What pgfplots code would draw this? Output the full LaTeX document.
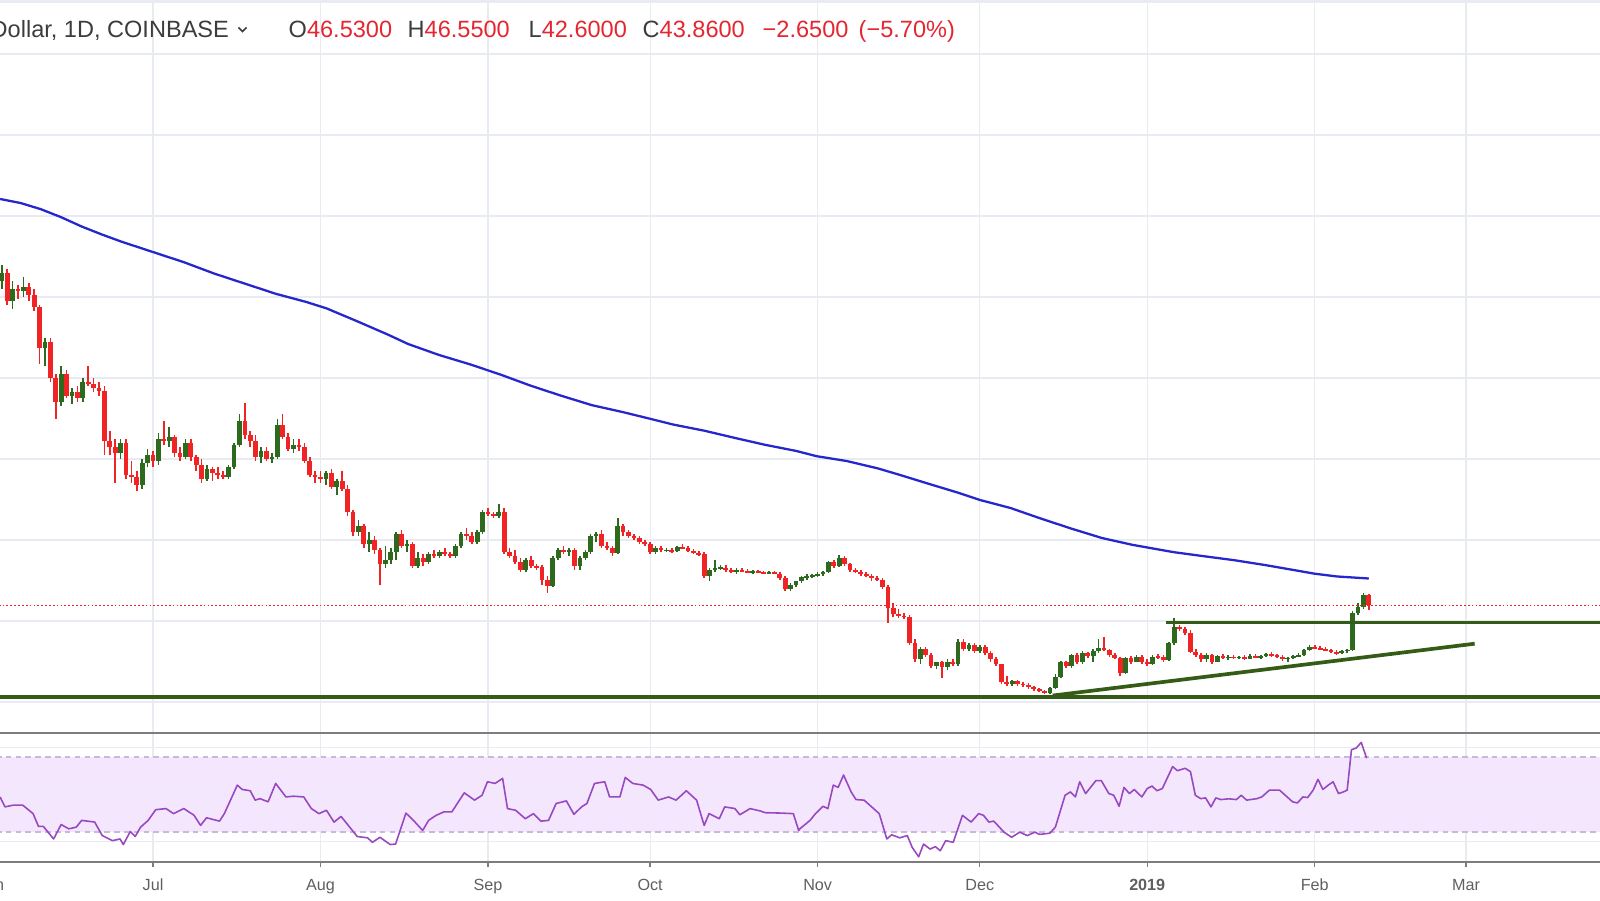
\documentclass[border=0pt]{standalone}
\usepackage{pgfplots}
\pgfplotsset{compat=1.18}
\usepackage{pgfplotstable}
\usepackage{fontspec}
\setmainfont{Liberation Sans}
\definecolor{upc}{RGB}{46,106,30}
\definecolor{dnc}{RGB}{240,36,36}
\definecolor{gridc}{RGB}{232,235,242}
\definecolor{mac}{RGB}{38,38,205}
\definecolor{supc}{RGB}{52,92,22}
\definecolor{rsic}{RGB}{152,72,192}
\definecolor{bandc}{RGB}{243,230,253}
\definecolor{bandl}{RGB}{200,185,218}
\definecolor{txtc}{RGB}{60,60,60}
\definecolor{tickc}{RGB}{95,95,95}
\definecolor{hred}{RGB}{228,38,48}
\definecolor{sepc}{RGB}{125,125,125}
\newcommand{\hf}{\fontsize{6.7}{8}\selectfont}

\pgfplotstableread{
d o h l c
-28 124.0 128.0 122.0 126.0
-27 126.0 127.0 118.0 119.0
-26 119.0 124.0 117.0 122.0
-25 122.0 123.0 119.5 121.5
-24 121.5 125.0 120.0 122.5
-23 122.5 123.5 119.0 120.5
-22 120.5 122.0 116.5 117.5
-21 117.5 118.0 103.5 107.5
-20 107.5 110.0 103.0 109.0
-19 109.0 110.0 99.0 100.0
-18 100.0 101.0 90.0 94.0
-17 94.0 103.0 93.0 101.0
-16 101.0 102.0 95.0 95.5
-15 95.5 97.5 93.5 96.5
-14 96.5 98.0 94.0 95.0
-13 95.0 100.0 94.0 99.0
-12 99.0 103.0 98.0 98.5
-11 98.5 100.0 96.5 97.5
-10 97.5 99.0 95.5 96.8
-9 96.8 98.0 81.0 84.5
-8 84.5 87.0 81.0 83.0
-7 83.0 85.0 74.0 81.5
-6 81.5 85.0 80.0 84.0
-5 84.0 85.0 75.0 76.0
-4 76.0 79.5 74.0 75.5
-3 75.5 77.0 72.0 73.5
-2 73.5 80.0 72.5 79.0
-1 79.0 82.5 78.0 81.0
0 81.0 82.0 78.0 79.5
1 79.5 86.5 78.5 85.0
2 85.0 89.5 83.5 84.5
3 84.5 88.0 83.0 85.5
4 85.5 86.0 80.5 81.5
5 81.5 83.0 79.5 80.5
6 80.5 85.0 80.0 84.0
7 84.0 85.0 79.5 80.5
8 80.5 81.0 77.0 78.5
9 78.5 80.0 74.0 75.0
10 75.0 78.5 74.5 77.5
11 77.5 78.0 74.5 76.5
12 76.5 78.0 75.0 76.0
13 76.0 77.0 75.0 75.5
14 75.5 78.5 75.0 78.0
15 78.0 84.0 77.5 83.5
16 83.5 91.0 83.0 89.5
17 89.5 93.8 85.0 86.0
18 86.0 87.0 83.0 84.5
19 84.5 86.0 79.5 80.5
20 80.5 83.0 79.0 82.0
21 82.0 83.0 79.5 80.0
22 80.0 81.5 79.0 80.5
23 80.5 90.0 80.0 88.5
24 88.5 91.0 85.0 85.5
25 85.5 86.5 82.0 82.5
26 82.5 85.0 81.5 83.5
27 83.5 85.0 82.0 83.0
28 83.0 84.0 79.0 79.5
29 79.5 80.5 75.5 76.0
30 76.0 77.0 74.0 75.5
31 75.5 77.0 74.0 75.0
32 75.0 77.0 73.5 76.5
33 76.5 77.5 72.5 73.0
34 73.0 75.0 71.0 74.5
35 74.5 77.0 72.0 72.5
36 72.5 73.5 66.0 67.0
37 67.0 67.5 61.0 62.0
38 62.0 65.0 61.0 63.5
39 63.5 64.0 58.0 59.0
40 59.0 62.0 57.0 60.0
41 60.0 61.0 56.5 57.5
42 57.5 58.0 49.0 54.0
43 54.0 58.5 53.0 55.0
44 55.0 58.0 54.0 57.0
45 57.0 62.0 55.0 61.5
46 61.5 62.5 58.0 58.5
47 58.5 60.0 57.0 59.0
48 59.0 59.5 53.0 53.5
49 53.5 57.0 53.0 55.5
50 55.5 56.5 53.5 54.5
51 54.5 57.0 54.0 56.5
52 56.5 57.5 55.5 56.0
53 56.0 57.5 55.5 57.0
54 57.0 58.0 56.0 56.5
55 56.5 57.0 55.5 56.0
56 56.0 59.0 55.5 58.5
57 58.5 62.0 58.0 61.5
58 61.5 63.0 60.0 61.0
59 61.0 62.0 59.0 59.5
60 59.5 62.5 59.0 62.0
61 62.0 67.5 61.5 67.0
62 67.0 68.0 66.0 66.5
63 66.5 67.0 65.5 66.0
64 66.0 69.0 65.5 67.0
65 67.0 68.0 56.5 57.0
66 57.0 58.0 55.5 56.0
67 56.0 57.5 54.0 54.5
68 54.5 55.5 52.0 52.5
69 52.5 55.5 52.0 55.0
70 55.0 56.0 53.0 53.5
71 53.5 54.0 52.5 53.3
72 53.3 53.8 49.0 50.2
73 50.2 51.0 47.0 48.6
74 48.6 56.0 48.3 55.5
75 55.5 58.0 55.0 57.5
76 57.5 58.5 56.5 57.0
77 57.0 58.0 56.0 57.5
78 57.5 58.0 52.5 53.5
79 53.5 56.0 52.5 55.5
80 55.5 57.5 55.0 57.0
81 57.0 61.5 56.5 61.0
82 61.0 62.0 59.5 61.5
83 61.5 62.5 58.0 58.5
84 58.5 59.5 57.5 58.0
85 58.0 58.5 56.0 56.8
86 56.8 65.5 56.5 63.5
87 63.5 64.0 61.0 62.0
88 62.0 62.5 60.5 61.0
89 61.0 61.5 60.0 60.5
90 60.5 61.0 59.0 59.5
91 59.5 60.0 58.5 59.0
92 59.0 59.5 56.5 57.0
93 57.0 58.5 56.5 58.0
94 58.0 58.5 57.0 57.5
95 57.5 58.0 57.0 57.5
96 57.5 58.0 56.8 57.2
97 57.2 58.5 57.0 58.3
98 58.3 59.0 57.8 58.0
99 58.0 58.5 57.0 57.3
100 57.3 57.8 56.5 56.8
101 56.8 57.2 56.0 56.5
102 56.5 57.0 50.5 51.0
103 51.0 53.0 50.0 52.5
104 52.5 55.0 52.0 53.0
105 53.0 53.8 52.5 53.2
106 53.2 53.8 52.0 52.5
107 52.5 53.0 51.8 52.0
108 52.0 53.0 51.5 52.5
109 52.5 53.0 52.0 52.3
110 52.3 52.8 51.8 52.0
111 52.0 52.5 51.5 52.2
112 52.2 52.6 51.8 52.0
113 52.0 52.4 51.5 51.8
114 51.8 52.3 51.5 52.0
115 52.0 52.3 51.5 51.7
116 51.7 52.0 50.2 50.5
117 50.5 51.0 47.5 48.0
118 48.0 49.5 47.5 49.0
119 49.0 50.0 48.5 49.8
120 49.8 51.2 49.5 50.8
121 50.8 51.5 50.2 51.0
122 51.0 51.5 50.5 51.2
123 51.2 52.0 50.8 51.5
124 51.5 52.3 51.0 52.0
125 52.0 54.8 51.8 54.5
126 54.5 55.0 53.2 53.6
127 53.6 56.3 53.4 55.5
128 55.5 56.0 53.5 54.0
129 54.0 54.3 52.0 52.5
130 52.5 53.0 51.8 52.0
131 52.0 52.5 51.0 51.5
132 51.5 52.0 50.8 51.2
133 51.2 51.5 50.0 50.5
134 50.5 51.0 49.8 50.2
135 50.2 50.5 48.0 48.4
136 48.4 48.8 39.5 43.2
137 43.2 44.5 41.0 41.8
138 41.8 43.0 40.8 41.3
139 41.3 42.0 40.5 41.0
140 41.0 41.5 34.0 34.6
141 34.6 35.5 30.0 30.5
142 30.5 33.5 29.5 33.0
143 33.0 33.5 31.0 31.5
144 31.5 32.0 28.5 29.0
145 29.0 30.0 28.2 29.8
146 29.8 30.2 26.0 28.6
147 28.6 30.5 28.0 30.0
148 30.0 30.5 29.0 29.3
149 29.3 35.5 29.0 34.8
150 34.8 35.5 32.5 33.0
151 33.0 34.5 32.5 34.0
152 34.0 34.5 32.0 32.5
153 32.5 34.0 32.0 33.5
154 33.5 34.0 31.5 32.0
155 32.0 32.5 30.0 30.5
156 30.5 31.0 29.0 29.3
157 29.3 29.5 24.5 25.0
158 25.0 26.5 24.0 24.5
159 24.5 25.5 24.0 25.2
160 25.2 25.5 24.0 24.5
161 24.5 25.0 23.8 24.2
162 24.2 24.6 23.2 23.6
163 23.6 24.0 22.8 23.2
164 23.2 23.5 22.5 22.8
165 22.8 23.0 22.0 22.3
166 22.3 23.8 22.0 23.5
167 23.5 26.8 23.3 26.2
168 26.2 30.2 26.0 29.8
169 29.8 30.2 28.5 28.9
170 28.9 31.8 28.5 31.5
171 31.5 32.0 29.5 30.0
172 30.0 32.5 29.5 32.0
173 32.0 32.3 30.8 31.3
174 31.3 33.0 30.0 32.5
175 32.5 35.5 32.0 33.3
176 33.3 36.0 32.5 32.8
177 32.8 33.0 31.0 31.5
178 31.5 32.0 30.5 30.8
179 30.8 31.2 26.5 27.2
180 27.2 31.0 26.8 30.8
181 30.8 31.3 29.5 30.0
182 30.0 31.5 29.8 31.0
183 31.0 31.5 29.5 30.0
184 30.0 30.5 29.0 29.5
185 29.5 31.5 29.2 31.2
186 31.2 31.8 30.5 31.0
187 31.0 31.5 29.8 30.4
188 30.4 34.8 30.2 34.5
189 34.5 40.7 34.0 38.5
190 38.5 39.0 37.5 38.0
191 38.0 38.5 36.5 37.0
192 37.0 37.8 32.0 32.3
193 32.3 33.0 31.0 31.6
194 31.6 32.0 30.0 30.6
195 30.6 32.0 29.8 31.5
196 31.5 31.8 29.5 30.0
197 30.0 31.5 29.8 31.3
198 31.3 31.8 30.5 30.9
199 30.9 31.5 30.4 31.2
200 31.2 31.6 30.6 30.9
201 30.9 31.4 30.5 31.1
202 31.1 31.5 30.3 30.7
203 30.7 31.8 30.5 31.4
204 31.4 31.8 30.8 31.0
205 31.0 31.6 30.6 31.3
206 31.3 32.2 31.0 31.9
207 31.9 32.3 31.2 31.5
208 31.5 31.8 30.8 31.1
209 31.1 31.5 30.2 30.6
210 30.6 31.2 30.0 30.9
211 30.9 31.6 30.6 31.3
212 31.3 32.0 31.0 31.5
213 31.5 33.0 31.3 32.8
214 32.8 34.0 32.5 33.6
215 33.6 34.0 33.0 33.2
216 33.2 33.8 32.8 33.0
217 33.0 33.5 32.5 32.8
218 32.8 33.2 32.0 32.3
219 32.3 32.8 31.7 32.0
220 32.0 32.8 31.8 32.6
221 32.6 33.2 32.2 32.9
222 32.9 42.5 32.7 42.0
223 42.0 44.5 41.5 43.5
224 43.5 46.8 43.0 46.53
225 46.53 46.55 42.60 43.86
}\candles

\begin{document}
\begin{tikzpicture}
\pgfplotsset{
  panestyle/.style={scale only axis, width=16cm, xmin=-28.32, xmax=267.8,
    axis line style={draw=none},
    xtick={0,31,62,92,123,153,184,215,243},
    grid=major, grid style={gridc, line width=0.35pt},
    yticklabels={}, ytick style={draw=none}},
  wick/.style={draw=none, mark=none, forget plot,
    error bars/.cd, y dir=both, y explicit, error mark=none,
    error bar style={draw=#1, line width=0.45pt}},
  body/.style={draw=none, mark=none, forget plot,
    error bars/.cd, y dir=both, y explicit, error mark=none,
    error bar style={draw=#1, line width=1.35pt}},
}
% ---------------- price pane ----------------
\begin{axis}[panestyle, at={(0,1.67cm)}, anchor=south west, height=7.33cm,
  ymin=12.35, ymax=193.33, ytick={20,40,...,180}, xticklabels={},
  major tick length=0pt, xtick style={draw=none}]
\addplot[wick=upc] table[x=d, y expr={(\thisrow{c}>=\thisrow{o}) ? ((\thisrow{h}+\thisrow{l})/2) : nan}, y error expr={(\thisrow{h}-\thisrow{l})/2}] {\candles};
\addplot[wick=dnc] table[x=d, y expr={(\thisrow{c}<\thisrow{o}) ? ((\thisrow{h}+\thisrow{l})/2) : nan}, y error expr={(\thisrow{h}-\thisrow{l})/2}] {\candles};
\addplot[body=upc] table[x=d, y expr={(\thisrow{c}>=\thisrow{o}) ? ((\thisrow{o}+\thisrow{c})/2) : nan}, y error expr={max(abs(\thisrow{c}-\thisrow{o})/2,0.15)}] {\candles};
\addplot[body=dnc] table[x=d, y expr={(\thisrow{c}<\thisrow{o}) ? ((\thisrow{o}+\thisrow{c})/2) : nan}, y error expr={max(abs(\thisrow{c}-\thisrow{o})/2,0.15)}] {\candles};
% 200-day moving average
\addplot[mac, line width=0.65pt, line join=round, mark=none] coordinates {
(-28.3,144.2) (-24.5,143.2) (-20.8,141.7) (-17.0,139.7) (-13.2,137.4) (-9.4,135.4) (-5.7,133.6) (0,131.1) (5.7,128.6) (11.3,125.8) (17.0,123.3) (22.7,120.8) (28.3,118.8) (32.1,117.2) (37.8,114.0) (43.5,110.7) (47.2,108.4) (52.9,105.7) (58.6,103.4) (64.2,100.9) (69.9,98.1) (75.6,95.6) (81.2,93.3) (86.9,91.6) (91.8,90.0) (96.3,88.5) (102.0,87.0) (107.7,85.2) (113.3,83.5) (119.0,82.0) (122.8,80.7) (128.4,79.5) (134.1,77.7) (137.9,76.2) (143.5,73.9) (149.2,71.6) (153.0,69.9) (158.7,67.9) (164.3,65.3) (170.0,62.8) (175.6,60.5) (181.3,58.8) (188.9,57.0) (194.5,56.0) (200.2,55.0) (205.9,53.8) (211.5,52.5) (214.9,51.7) (219.1,51.0) (225,50.5)};
% support / trend lines
\addplot[supc, line width=1.05pt, mark=none] coordinates {(-40,21.3) (280,21.3)};
\addplot[supc, line width=1.05pt, mark=none] coordinates {(187.5,39.6) (280,39.6)};
\addplot[supc, line width=1.05pt, mark=none] coordinates {(166.5,21.6) (244.6,34.4)};
% last price line
\addplot[dnc, line width=0.4pt, dash pattern=on 0.5pt off 0.6pt, mark=none] coordinates {(-40,43.86) (280,43.86)};
\end{axis}
% ---------------- RSI pane ----------------
\begin{axis}[panestyle, at={(0,0.38cm)}, anchor=south west, height=1.29cm,
  ymin=14, ymax=82.8, ytick={25,75},
  xticklabels={Jul,Aug,Sep,Oct,Nov,Dec,\textbf{2019},Feb,Mar},
  xtick pos=bottom, tick align=outside, major tick length=0.05cm,
  xtick style={draw=sepc, line width=0.4pt},
  xticklabel style={anchor=base, yshift=-0.23cm, font=\fontsize{4.6}{5}\selectfont, text=tickc}]
\addplot[draw=none, fill=bandc, forget plot] coordinates {(-40,30) (280,30) (280,70) (-40,70)} -- cycle;
\addplot[gridc, line width=0.35pt, mark=none] coordinates {(-40,50) (280,50)};
\addplot[bandl, line width=0.4pt, dash pattern=on 1.6pt off 1.2pt, mark=none] coordinates {(-40,70) (280,70)};
\addplot[bandl, line width=0.4pt, dash pattern=on 1.6pt off 1.2pt, mark=none] coordinates {(-40,30) (280,30)};
\addplot[rsic, line width=0.45pt, line join=round, mark=none] coordinates {
(-28.3,48.7) (-27.4,43.4) (-25.9,44.3) (-24.1,44.3) (-22.2,39.8) (-21.2,33.0) (-20.3,33.0) (-18.4,26.3) (-17.0,34.0) (-15.6,31.7) (-14.2,32.6) (-13.2,36.2) (-10.8,35.3) (-9.4,28.1) (-7.5,25.4) (-6.1,26.3) (-5.5,23.3) (-4.2,30.3) (-3.3,27.6) (-2.3,32.6) (-0.9,36.2) (0.5,41.9) (2.4,42.5) (3.8,39.8) (5.7,42.5) (7.6,38.9) (8.8,33.5) (9.9,37.6) (12.3,35.8) (13.2,39.8) (15.6,55.0) (16.5,52.7) (18.0,52.0) (18.9,47.0) (19.8,47.8) (21.3,46.1) (22.7,55.9) (24.6,48.7) (26.0,49.1) (27.9,48.7) (29.3,42.5) (30.7,39.8) (32.1,41.6) (33.5,35.3) (34.8,38.3) (37.8,27.6) (39.7,26.9) (40.6,24.5) (42.0,27.2) (43.9,23.3) (44.9,23.6) (46.8,40.1) (48.2,36.2) (49.9,30.8) (51.0,36.2) (52.4,38.9) (53.8,40.7) (55.3,40.7) (57.6,50.9) (59.5,47.0) (60.9,49.6) (61.9,56.8) (63.3,55.9) (64.7,58.6) (65.6,42.5) (67.1,41.6) (68.9,37.1) (70.4,39.8) (71.8,35.8) (73.2,36.2) (74.6,45.2) (76.5,46.6) (77.9,39.4) (79.3,43.4) (80.3,45.2) (81.7,55.9) (83.6,56.8) (84.5,48.7) (86.4,48.7) (87.4,59.1) (88.8,55.9) (90.7,55.0) (92.1,52.7) (93.5,47.0) (95.4,48.7) (96.8,47.0) (98.7,52.0) (100.6,47.0) (102.0,33.5) (102.9,39.8) (104.8,37.1) (105.8,43.4) (107.7,42.5) (108.6,39.2) (110.5,42.5) (112.4,41.2) (113.3,40.3) (116.2,40.1) (118.5,39.8) (119.5,30.8) (119.7,31.7) (121.6,36.2) (122.6,39.8) (124.0,43.7) (124.9,42.5) (125.9,55.0) (126.8,53.8) (127.8,60.4) (129.2,51.4) (130.1,47.3) (131.6,47.0) (133.0,43.4) (134.4,39.8) (135.8,26.3) (136.7,28.5) (138.2,26.9) (139.6,28.1) (140.5,21.8) (141.7,16.8) (142.6,23.6) (143.8,20.9) (144.8,22.2) (145.7,20.0) (146.7,25.4) (148.1,24.5) (149.8,38.9) (151.4,35.3) (152.8,39.8) (153.7,38.9) (154.7,35.3) (155.6,35.8) (157.5,29.9) (158.9,27.2) (160.4,29.9) (161.8,28.1) (163.2,29.9) (164.1,28.7) (166.0,29.4) (167.0,32.6) (168.8,49.6) (169.8,51.4) (170.7,48.7) (171.5,56.8) (172.6,50.5) (174.5,57.4) (175.5,57.4) (176.9,50.5) (177.8,49.6) (178.8,43.7) (179.7,53.8) (180.7,50.5) (181.6,52.7) (183.0,48.7) (184.0,53.2) (184.9,54.5) (185.8,52.0) (186.8,53.2) (188.7,64.9) (189.6,62.7) (191.0,64.0) (192.0,62.2) (192.9,49.6) (193.9,47.8) (194.8,48.2) (195.8,43.4) (196.7,48.2) (197.6,47.3) (199.1,47.7) (200.5,47.3) (201.4,49.6) (202.4,47.0) (204.3,47.8) (205.2,48.7) (206.6,52.3) (208.5,52.3) (209.9,48.7) (210.9,46.1) (211.8,45.5) (212.8,48.7) (213.7,48.4) (214.7,52.3) (215.6,58.1) (216.5,52.7) (217.5,55.0) (218.4,56.8) (219.4,50.5) (220.3,51.4) (221.0,52.3) (221.8,73.9) (222.7,74.8) (223.6,77.8) (224.6,69.4)};
\end{axis}
% pane borders
\draw[sepc, line width=0.6pt] (0,1.67) -- (16,1.67);
\draw[sepc, line width=0.45pt] (0,0.38) -- (16,0.38);
\fill[gridc] (0,8.965) rectangle (16,9.0);
% cut-off "Jun" label at the left edge
\node[anchor=base, inner sep=0, font=\fontsize{4.6}{5}\selectfont, text=tickc] at (-0.09,0.10) {Jun};
% header
\node[anchor=base east, inner sep=0, text=txtc, font=\hf] at (2.296,8.62) {Dollar, 1D, COINBASE};
\draw[txtc, line width=0.45pt] (2.385,8.725) -- (2.425,8.685) -- (2.465,8.725);
\node[anchor=base west, inner sep=0, font=\hf] at (2.88,8.62) {\textcolor{txtc}{O}\textcolor{hred}{46.5300}};
\node[anchor=base west, inner sep=0, font=\hf] at (4.07,8.62) {\textcolor{txtc}{H}\textcolor{hred}{46.5500}};
\node[anchor=base west, inner sep=0, font=\hf] at (5.28,8.62) {\textcolor{txtc}{L}\textcolor{hred}{42.6000}};
\node[anchor=base west, inner sep=0, font=\hf] at (6.42,8.62) {\textcolor{txtc}{C}\textcolor{hred}{43.8600}};
\node[anchor=base west, inner sep=0, font=\hf, text=hred] at (7.62,8.62) {−2.6500};
\node[anchor=base west, inner sep=0, font=\hf, text=hred] at (8.58,8.62) {(−5.70\%)};
\pgfresetboundingbox
\path (0,0) rectangle (16,9);
\end{tikzpicture}
\end{document}
